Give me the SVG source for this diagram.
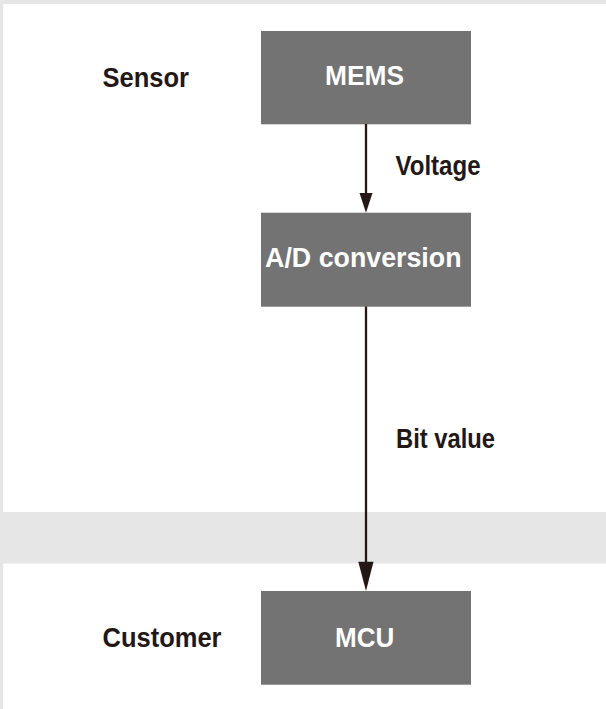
<svg xmlns="http://www.w3.org/2000/svg" width="606" height="709" viewBox="0 0 606 709">
<style>
.box{fill:#737373}
.bt{font-family:"Liberation Sans",Arial,sans-serif;font-weight:bold;font-size:27px;fill:#ffffff;text-anchor:middle}
.lt{font-family:"Liberation Sans",Arial,sans-serif;font-weight:bold;font-size:27px;fill:#231815}
.ln{stroke:#231815;stroke-width:2.3;fill:none}
.hd{fill:#231815}
</style>
<rect x="0" y="0" width="606" height="709" fill="#ffffff"/>
<rect x="0" y="0" width="606" height="4" fill="#e6e6e6"/>
<rect x="0" y="0" width="3" height="709" fill="#e6e6e6"/>
<rect x="0" y="512" width="606" height="51.5" fill="#e5e6e5"/>
<g id="label-sensor"><text class="lt" x="102.5" y="86.5" textLength="86.5" lengthAdjust="spacingAndGlyphs">Sensor</text></g>
<g id="label-customer"><text class="lt" x="102.5" y="646.5" textLength="119" lengthAdjust="spacingAndGlyphs">Customer</text></g>
<g id="node-mems"><rect class="box" x="261" y="31" width="210" height="93.3"/><text class="bt" x="364.5" y="85" textLength="79" lengthAdjust="spacingAndGlyphs">MEMS</text></g>
<g id="node-ad"><rect class="box" x="261" y="212.7" width="210" height="94"/><text class="bt" x="363.3" y="266.5" textLength="196.5" lengthAdjust="spacingAndGlyphs">A/D conversion</text></g>
<g id="node-mcu"><rect class="box" x="261" y="591" width="210" height="93.7"/><text class="bt" x="364.7" y="646.5" textLength="59.3" lengthAdjust="spacingAndGlyphs">MCU</text></g>
<g id="connectors">
<line class="ln" x1="366" y1="124" x2="366" y2="195"/>
<polygon class="hd" points="359.5,193 372.5,193 366,212.7"/>
<text class="lt" x="395.5" y="175" textLength="85" lengthAdjust="spacingAndGlyphs">Voltage</text>
<line class="ln" x1="366" y1="306.5" x2="366" y2="563"/>
<polygon class="hd" points="358.3,561.7 373.5,561.7 366,591"/>
<text class="lt" x="396" y="448.3" textLength="99" lengthAdjust="spacingAndGlyphs">Bit value</text>
</g>
</svg>
